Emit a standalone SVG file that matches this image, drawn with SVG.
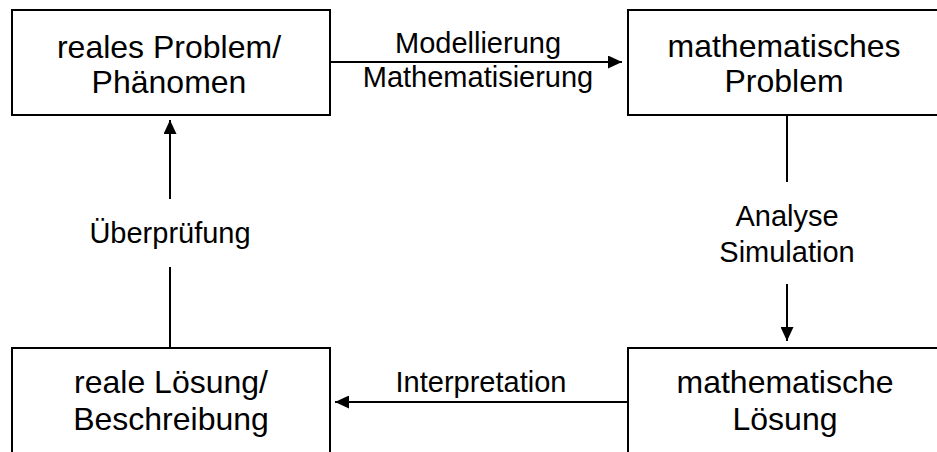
<svg xmlns="http://www.w3.org/2000/svg" width="937" height="452" viewBox="0 0 937 452">
  <defs>
    <style>
      .box { fill: #ffffff; stroke: #000000; stroke-width: 2; }
      .node-text { font-family: "Liberation Sans", Arial, sans-serif; font-size: 32px; fill: #000000; text-anchor: middle; }
      .edge-label { font-family: "Liberation Sans", Arial, sans-serif; font-size: 29px; fill: #000000; text-anchor: middle; }
      .edge { fill: none; stroke: #000000; stroke-width: 2; }
    </style>
    <marker id="arrowhead" markerWidth="14" markerHeight="13" refX="14" refY="6.5" orient="auto" markerUnits="userSpaceOnUse" viewBox="0 0 14 13">
      <path d="M0,0 L14,6.5 L0,13 Z" fill="#000000"/>
    </marker>
  </defs>

  <rect width="937" height="452" fill="#ffffff"/>

  <!-- real problem -->
  <g id="real-problem">
    <rect class="box" x="12" y="10" width="318" height="105"/>
    <text class="node-text" x="169" y="58">reales Problem/</text>
    <text class="node-text" x="169" y="93">Phänomen</text>
  </g>

  <!-- mathematical problem -->
  <g id="math-problem">
    <rect class="box" x="628" y="10" width="318" height="105"/>
    <text class="node-text" x="784" y="57">mathematisches</text>
    <text class="node-text" x="784" y="92">Problem</text>
  </g>

  <!-- real solution -->
  <g id="real-solution">
    <rect class="box" x="12" y="348" width="318" height="120"/>
    <text class="node-text" x="171" y="393">reale Lösung/</text>
    <text class="node-text" x="171" y="430">Beschreibung</text>
  </g>

  <!-- mathematical solution -->
  <g id="math-solution">
    <rect class="box" x="628" y="348" width="318" height="120"/>
    <text class="node-text" x="785" y="393">mathematische</text>
    <text class="node-text" x="785" y="430">Lösung</text>
  </g>

  <!-- connectors -->
  <g id="connectors">
    <line class="edge" x1="330" y1="62" x2="622" y2="62" marker-end="url(#arrowhead)"/>
    <line class="edge" x1="787" y1="115" x2="787" y2="182"/>
    <line class="edge" x1="787" y1="284" x2="787" y2="341" marker-end="url(#arrowhead)"/>
    <line class="edge" x1="628" y1="402" x2="335" y2="402" marker-end="url(#arrowhead)"/>
    <line class="edge" x1="170" y1="348" x2="170" y2="267"/>
    <line class="edge" x1="170" y1="199" x2="170" y2="120" marker-end="url(#arrowhead)"/>

    <text class="edge-label" x="478" y="53">Modellierung</text>
    <text class="edge-label" x="478" y="87">Mathematisierung</text>
    <text class="edge-label" x="787" y="226">Analyse</text>
    <text class="edge-label" x="787" y="262">Simulation</text>
    <text class="edge-label" x="481" y="392">Interpretation</text>
    <text class="edge-label" x="170" y="243">Überprüfung</text>
  </g>
</svg>
